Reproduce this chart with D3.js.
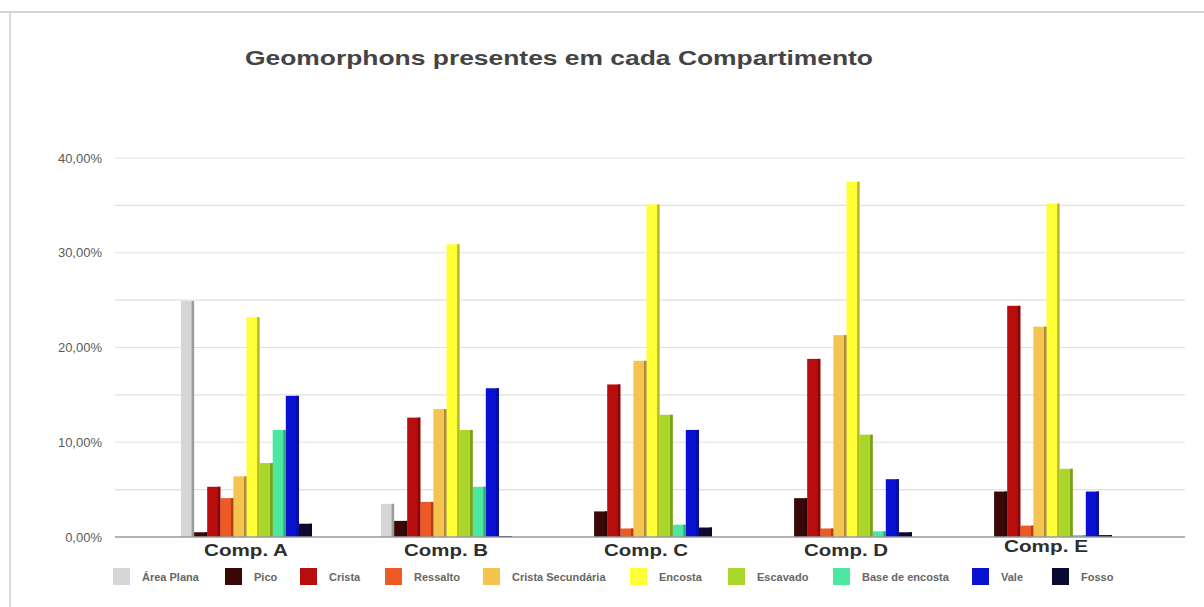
<!DOCTYPE html>
<html>
<head>
<meta charset="utf-8">
<script src="https://cdn.jsdelivr.net/npm/d3@7"></script>
<style>
  html, body { margin: 0; padding: 0; background: #ffffff; }
  svg { display: block; font-family: "Liberation Sans", Arial, sans-serif; }
</style>
</head>
<body>
<svg id="chart" width="1204" height="607"></svg>
<script>
// ---- data ----
const categories = ["Comp. A", "Comp. B", "Comp. C", "Comp. D", "Comp. E"];
const seriesNames = ["Área Plana", "Pico", "Crista", "Ressalto", "Crista Secundária",
                     "Encosta", "Escavado", "Base de encosta", "Vale", "Fosso"];
const seriesColors = ["#d6d6d6", "#3a0808", "#b80d0d", "#ee5a24", "#f4c350",
                      "#ffff38", "#a8d62a", "#4ae8a0", "#0a12d2", "#0b0b30"];
// percent values per series, in order of categories
const areaPlana      = [24.9, 3.5, 0.0, 0.0, 0.0];
const pico           = [0.5, 1.7, 2.7, 4.1, 4.8];
const crista         = [5.3, 12.6, 16.1, 18.8, 24.4];
const ressalto       = [4.1, 3.7, 0.9, 0.9, 1.2];
const cristaSec      = [6.4, 13.5, 18.6, 21.3, 22.2];
const encosta        = [23.2, 30.9, 35.1, 37.5, 35.2];
const escavado       = [7.8, 11.3, 12.9, 10.8, 7.2];
const baseEncosta    = [11.3, 5.3, 1.3, 0.6, 0.2];
const vale           = [14.9, 15.7, 11.3, 6.1, 4.8];
const fosso          = [1.4, 0.1, 1.0, 0.5, 0.2];
const seriesValues = [areaPlana, pico, crista, ressalto, cristaSec,
                      encosta, escavado, baseEncosta, vale, fosso];
const yTickValues = [0, 10, 20, 30, 40];
const yTickLabels = ["0,00%", "10,00%", "20,00%", "30,00%", "40,00%"];
const yGridValues = [0, 5, 10, 15, 20, 25, 30, 35, 40];
const title = "Geomorphons presentes em cada Compartimento";

// ---- layout ----
const svg = d3.select("#chart");
const plotLeft = 115, plotRight = 1185;
const labelDy = [0, 0, 0, 0, -4];

const x0 = d3.scaleBand().domain(categories).range([146, 1146]).padding(0);
const x1 = d3.scaleBand().domain(seriesNames).range([35, 166]).padding(0);
const y = d3.scaleLinear().domain([0, 40]).range([537, 158]);

// frame lines
svg.append("line").attr("x1", 0).attr("x2", 1204).attr("y1", 12).attr("y2", 12)
  .attr("stroke", "#d4d4d4").attr("stroke-width", 2);
svg.append("line").attr("x1", 10).attr("x2", 10).attr("y1", 12).attr("y2", 607)
  .attr("stroke", "#cfcfcf").attr("stroke-width", 1.5);

// title
svg.append("text").attr("x", 245).attr("y", 65)
  .attr("font-size", 21).attr("font-weight", "bold").attr("fill", "#444")
  .attr("textLength", 628).attr("lengthAdjust", "spacingAndGlyphs")
  .text(title);

// grid
svg.append("g").selectAll("line").data(yGridValues.filter(v => v > 0)).join("line")
  .attr("x1", plotLeft).attr("x2", plotRight)
  .attr("y1", d => y(d)).attr("y2", d => y(d))
  .attr("stroke", "#e0e0e0").attr("stroke-width", 1.2);

// y axis labels via d3 axis
const yAxis = d3.axisLeft(y).tickValues(yTickValues)
  .tickFormat((d, i) => yTickLabels[i]).tickSize(0).tickPadding(0);
const gy = svg.append("g").attr("transform", "translate(102,0)").call(yAxis);
gy.select(".domain").remove();
gy.selectAll("text").attr("font-size", 13).attr("fill", "#5a5a5a")
  .attr("font-family", "Liberation Sans, Arial, sans-serif");

// bars
const groups = svg.append("g").selectAll("g").data(categories).join("g")
  .attr("transform", d => `translate(${x0(d)},0)`);

groups.each(function(cat, ci) {
  const g = d3.select(this);
  const rows = seriesNames.map((s, si) => ({ s, si, v: seriesValues[si][ci] }))
    .filter(d => d.v > 0);
  g.selectAll("rect.bar").data(rows).join("rect").attr("class", "bar")
    .attr("x", d => x1(d.s))
    .attr("y", d => y(d.v))
    .attr("width", x1.bandwidth())
    .attr("height", d => y(0) - y(d.v))
    .attr("fill", d => seriesColors[d.si]);
  g.selectAll("rect.shade").data(rows).join("rect").attr("class", "shade")
    .attr("x", d => x1(d.s) + x1.bandwidth() - 2.5)
    .attr("y", d => y(d.v))
    .attr("width", 2.5)
    .attr("height", d => y(0) - y(d.v))
    .attr("fill", d => d3.color(seriesColors[d.si]).darker(0.9));
});

// baseline
svg.append("line").attr("x1", plotLeft).attr("x2", plotRight)
  .attr("y1", y(0)).attr("y2", y(0))
  .attr("stroke", "#9a9a9a").attr("stroke-width", 1.5);

// category labels
svg.append("g").selectAll("text").data(categories).join("text")
  .attr("x", d => x0(d) + x0.bandwidth() / 2)
  .attr("y", (d, i) => 556 + labelDy[i])
  .attr("text-anchor", "middle")
  .attr("font-size", 17).attr("font-weight", "bold").attr("fill", "#2e2e2e")
  .attr("textLength", 84).attr("lengthAdjust", "spacingAndGlyphs")
  .text(d => d);

// legend
const legendX = [113, 225, 300, 385, 483, 630, 728, 833, 972, 1052];
const lg = svg.append("g").selectAll("g").data(seriesNames).join("g")
  .attr("transform", (d, i) => `translate(${legendX[i]},568)`);
lg.append("rect").attr("width", 17).attr("height", 17)
  .attr("fill", (d, i) => seriesColors[i]);
lg.append("text").attr("x", 29).attr("y", 13)
  .attr("font-size", 11).attr("font-weight", "bold").attr("fill", "#666")
  .text(d => d);
</script>
</body>
</html>
